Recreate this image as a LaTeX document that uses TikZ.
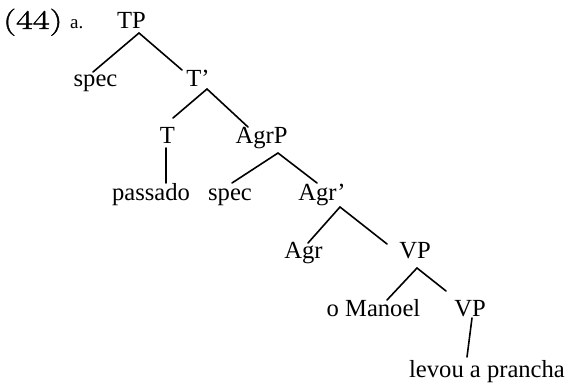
\documentclass[tikz,border=0pt]{standalone}
\usepackage{fontspec}
\newfontfamily\treefont[Ligatures=TeX]{Liberation Serif}
\newfontfamily\exfont[FakeStretch=1.35, FakeBold=1.5]{Latin Modern Roman}
\tikzset{
  cat/.style={anchor=base, inner sep=0pt, font=\treefont\fontsize{24.6}{28}\selectfont},
  branch/.style={line width=1.6pt, line cap=round},
}
\begin{document}
\begin{tikzpicture}[x=1pt,y=-1pt]
      \useasboundingbox (0,0) rectangle (570,385);
      \node[anchor=base west, inner sep=0pt, font=\exfont\fontsize{27}{30}\selectfont] (ex) at (3,29) {(44)};
      \node[anchor=base west, inner sep=0pt, font=\treefont\fontsize{19}{20}\selectfont] (a) at (70,29) {a.};
      \node[cat] (TP) at (131.5,29) {TP};
      \node[cat] (specA) at (95.5,87) {spec};
      \node[cat] (Tbar) at (198,87) {T’};
      \node[cat] (T) at (167.5,143) {T};
      \node[cat] (AgrP) at (261.5,143) {AgrP};
      \node[cat] (passado) at (151,200) {passado};
      \node[cat] (specB) at (230,200) {spec};
      \node[cat] (Agrbar) at (322,200) {Agr’};
      \node[cat] (Agr) at (303.5,258) {Agr};
      \node[cat] (VP) at (415,258) {VP};
      \node[cat] (Manoel) at (373.5,316) {o Manoel};
      \node[cat] (VPlow) at (470,316) {VP};
      \node[cat] (levou) at (487,377) {levou a prancha};
      \begin{scope}[branch]
        \draw ([shift={(7.5,4)}]TP.base) to ([shift={(-2.5,-15)}]specA.base);
        \draw ([shift={(7.5,4)}]TP.base) to ([shift={(-16,-17)}]Tbar.base);
        \draw ([shift={(9,2)}]Tbar.base) to ([shift={(5.5,-25)}]T.base);
        \draw ([shift={(9,2)}]Tbar.base) to ([shift={(-13.5,-16)}]AgrP.base);
        \draw ([shift={(-1.5,5)}]T.base) to ([shift={(15,-17)}]passado.base);
        \draw ([shift={(16.5,10)}]AgrP.base) to ([shift={(2,-17)}]specB.base);
        \draw ([shift={(16.5,10)}]AgrP.base) to ([shift={(-5,-17)}]Agrbar.base);
        \draw ([shift={(18,7)}]Agrbar.base) to ([shift={(4.5,-15)}]Agr.base);
        \draw ([shift={(18,7)}]Agrbar.base) to ([shift={(-28,-14)}]VP.base);
        \draw ([shift={(2,10)}]VP.base) to ([shift={(13.5,-16)}]Manoel.base);
        \draw ([shift={(2,10)}]VP.base) to ([shift={(-24,-25)}]VPlow.base);
        \draw ([shift={(2,2)}]VPlow.base) to ([shift={(-20,-20)}]levou.base);
      \end{scope}
    \end{tikzpicture}
\end{document}
